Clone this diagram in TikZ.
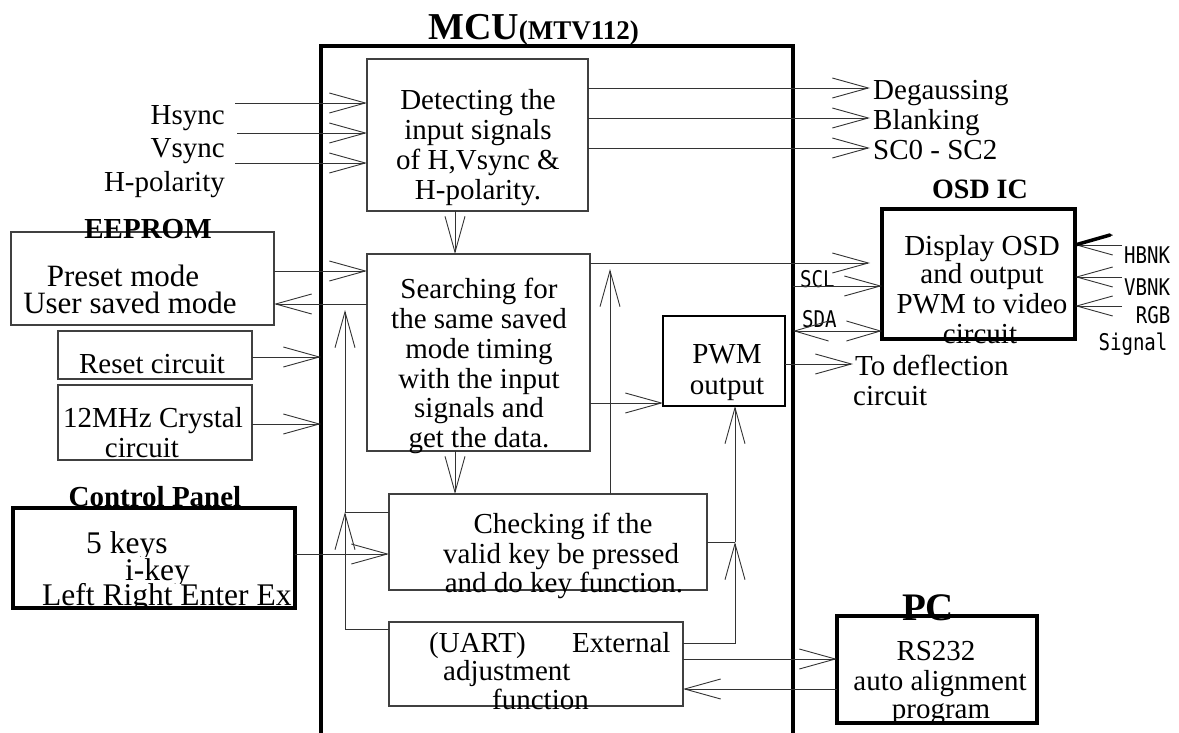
\documentclass[tikz,border=0pt]{standalone}
\usepackage{fontspec}
\usepackage{graphicx}
\setmainfont{Liberation Serif}
\newfontfamily\sigfont{DejaVu Sans Mono}
\usetikzlibrary{arrows.meta}

\newcommand\txt{\fontsize{29}{30}\selectfont}
\newcommand\sig[1]{\scalebox{0.83}[1]{\fontsize{23}{23}\selectfont\sigfont #1}}

\begin{document}
\begin{tikzpicture}[x=1pt,y=-1pt,
  wire/.style={line width=0.9pt, draw=black!80},
  arr/.style={wire, -{Straight Barb[length=36pt,width=20pt]}},
  darr/.style={wire, {Straight Barb[length=34pt,width=20pt]}-{Straight Barb[length=34pt,width=20pt]}},
  blk/.style={draw=black!75, line width=1.1pt, inner sep=0pt, outer sep=0pt, anchor=north west},
  heavy/.style={blk, draw=black, line width=4pt},
  lbl/.style={inner sep=0pt, font=\txt},
  keytxt/.style={inner sep=0pt, font=\fontsize{31.5}{31.5}\selectfont, anchor=base west},
  ttl/.style={inner sep=0pt, font=\fontsize{29}{29}\selectfont\bfseries},
  sg/.style={inner sep=0pt},
]
\useasboundingbox (0,0) rectangle (1179,733);

% ---------- blocks ----------
\node[heavy, line width=4.5pt, minimum width=472pt, minimum height=740pt] (mcu) at (321,46) {};
\node[blk, minimum width=221pt, minimum height=152pt] (det) at (367,59) {};
\node[blk, minimum width=223pt, minimum height=197pt] (srch) at (367,254) {};
\node[blk, minimum width=318pt, minimum height=96pt] (chk) at (389,494) {};
\node[blk, minimum width=294pt, minimum height=84pt] (uart) at (389,622) {};
\node[blk, draw=black, line width=2.5pt, minimum width=122pt, minimum height=90pt] (pwm) at (663,316) {};
\node[blk, minimum width=263pt, minimum height=93pt] (eep) at (11,232) {};
\node[blk, minimum width=194pt, minimum height=48pt] (rst) at (58,331) {};
\node[blk, minimum width=194pt, minimum height=75pt] (xtal) at (58,385) {};
\node[heavy, minimum width=282pt, minimum height=100pt] (cp) at (13,508) {};
\node[heavy, minimum width=193pt, minimum height=130pt] (osd) at (882,209) {};
\node[heavy, minimum width=200pt, minimum height=107pt] (pc) at (837,616) {};

% ---------- titles ----------
\node[inner sep=0pt, anchor=base west] (mcut) at (428,40)
  {{\fontsize{38}{38}\selectfont\bfseries MCU}{\fontsize{27}{27}\selectfont\bfseries(MTV112)}};
\node[ttl, anchor=base] (eept) at (148,239) {EEPROM};
\node[ttl, anchor=base] (cpt) at (155,506) {Control Panel};
\node[ttl, font=\fontsize{28}{28}\selectfont\bfseries, anchor=base] (osdt) at (980,199) {OSD IC};
\node[ttl, font=\fontsize{39}{39}\selectfont\bfseries, anchor=base] (pct) at (928,620) {PC};

% ---------- signal labels ----------
\node[lbl, anchor=base east] (hs) at (225,125) {Hsync};
\node[lbl, anchor=base east] (vs) at (225,158) {Vsync};
\node[lbl, anchor=base east] (hp) at (225,192) {H-polarity};
\node[lbl, anchor=base west] (deg) at (873,100) {Degaussing};
\node[lbl, anchor=base west] (blank) at (873,130) {Blanking};
\node[lbl, anchor=base west] (sc) at (873,160) {SC0 - SC2};
\node[lbl, anchor=base west] (defl1) at (855,375) {To deflection};
\node[lbl, anchor=base west] (defl2) at (853,405) {circuit};

% ---------- block texts ----------
\node[lbl, anchor=base] (d1) at (478,110) {Detecting the};
\node[lbl, anchor=base] (d2) at (478,140) {input signals};
\node[lbl, anchor=base] (d3) at (478,170) {of H,Vsync \&};
\node[lbl, anchor=base] (d4) at (478,200) {H-polarity.};

\node[lbl, anchor=base] (s1) at (479,298) {Searching for};
\node[lbl, anchor=base] (s2) at (479,328) {the same saved};
\node[lbl, anchor=base] (s3) at (479,358) {mode timing};
\node[lbl, anchor=base] (s4) at (479,388) {with the input};
\node[lbl, anchor=base] (s5) at (479,417) {signals and};
\node[lbl, anchor=base] (s6) at (479,447) {get the data.};

\node[lbl, anchor=base] (p1) at (727,363) {PWM};
\node[lbl, anchor=base] (p2) at (727,394) {output};

\node[lbl, anchor=base] (c1) at (563,533) {Checking if the};
\node[lbl, anchor=base] (c2) at (561,563) {valid key be pressed};
\node[lbl, anchor=base] (c3) at (564,592) {and do key function.};

\node[lbl, anchor=base west] (u1) at (429,652) {(UART)};
\node[lbl, anchor=base west] (u2) at (572,652) {External};
\node[lbl, anchor=base west] (u3) at (443,680) {adjustment};
\node[lbl, anchor=base west] (u4) at (492,709) {function};

\node[lbl, font=\fontsize{31}{31}\selectfont, anchor=base] (e1) at (123,286) {Preset mode};
\node[lbl, font=\fontsize{31}{31}\selectfont, anchor=base] (e2) at (130,313) {User saved mode};

\node[lbl, anchor=base] (r1) at (152,373) {Reset circuit};
\node[lbl, anchor=base] (x1) at (153,427) {12MHz Crystal};
\node[lbl, anchor=base] (x2) at (142,457) {circuit};

% key list, each line cut off by the one below and by the frame
\begin{scope}
  \clip (15,520) rectangle (292,556);
  \node[keytxt] (k1) at (86,553) {5 keys};
\end{scope}
\begin{scope}
  \clip (15,556) rectangle (292,583);
  \node[keytxt] (k2) at (125,580) {i-key};
\end{scope}
\begin{scope}
  \clip (15,583) rectangle (291,606);
  \node[keytxt] (k3) at (42,605) {Left Right Enter Exit};
\end{scope}

\node[lbl, anchor=base] (o1) at (982,255) {Display OSD};
\node[lbl, anchor=base] (o2) at (982,283) {and output};
\node[lbl, anchor=base] (o3) at (982,313) {PWM to video};
\node[lbl, anchor=base] (o4) at (980,343) {circuit};

\node[lbl, anchor=base] (pc1) at (936,660) {RS232};
\node[lbl, anchor=base] (pc2) at (940,690) {auto alignment};
\begin{scope}
  \clip (839,618) rectangle (1035,721);
  \node[lbl, anchor=base] (pc3) at (941,718) {program};
\end{scope}

\node[sg, anchor=base west] (scl) at (800,287) {\sig{SCL}};
\node[sg, anchor=base west] (sda) at (802,327) {\sig{SDA}};
\node[sg, anchor=base] (hbnk) at (1147,263) {\sig{HBNK}};
\node[sg, anchor=base] (vbnk) at (1147,295) {\sig{VBNK}};
\node[sg, anchor=base] (rgb) at (1153,323) {\sig{RGB}};
\node[sg, anchor=base] (sgl) at (1133,350) {\sig{Signal}};

% ---------- free ends and junctions ----------
\coordinate (hsIn) at (235,103);
\coordinate (vsIn) at (237,133);
\coordinate (hpIn) at (235,163);
\coordinate (degTip) at (870,88);
\coordinate (blankTip) at (870,118);
\coordinate (scTip) at (870,148);
\coordinate (sclTip) at (870,263);
\coordinate (deflTip) at (853,364);
\coordinate (hbIn) at (1122,245);
\coordinate (vbIn) at (1122,277);
\coordinate (rgbIn) at (1122,306);
\coordinate (jl) at (345,512);
\coordinate (jlTop) at (345,310);
\coordinate (jr) at (735,542);
\coordinate (feedTip) at (610,269);

% ---------- connectors ----------
\draw[arr] (hsIn) -- (det.west |- hsIn);
\draw[arr] (vsIn) -- (det.west |- vsIn);
\draw[arr] (hpIn) -- (det.west |- hpIn);

\draw[arr] (det.east |- degTip) -- (degTip);
\draw[arr] (det.east |- blankTip) -- (blankTip);
\draw[arr] (det.east |- scTip) -- (scTip);

\draw[arr] (det.south -| 455,0) -- (srch.north -| 455,0);
\draw[arr] (srch.south -| 455,0) -- (chk.north -| 455,0);

\draw[arr] (eep.east |- 0,271) -- (srch.west |- 0,271);
\draw[arr] (srch.west |- 0,304) -- (eep.east |- 0,304);

\draw[arr] (rst.east |- 0,357) -- (mcu.west |- 0,357);
\draw[arr] (xtal.east |- 0,424) -- (mcu.west |- 0,424);

\draw[arr] (cp.east |- 0,554) -- (chk.west |- 0,554);

\draw[arr] (srch.east |- 0,403) -- (pwm.west |- 0,403);
\draw[arr] (srch.east |- sclTip) -- (sclTip);
\draw[arr] (mcu.east |- 0,286) -- (osd.west |- 0,286);
\draw[darr] (mcu.east |- 0,331) -- (osd.west |- 0,331);
\draw[arr] (pwm.east |- deflTip) -- (deflTip);

\draw[arr] (hbIn) -- (osd.east |- hbIn);
\draw[line width=3.5pt, line cap=round] (osd.east |- hbIn) -- (1110,235);
\draw[arr] (vbIn) -- (osd.east |- vbIn);
\draw[arr] (rgbIn) -- (osd.east |- rgbIn);

% feedback paths inside the MCU
\draw[arr] (uart.west |- 0,629) -- (345,629) -- (jl);
\draw[arr] (jl) -- (jlTop);
\draw[wire] (chk.west |- jl) -- (jl);

\draw[arr] (chk.north -| feedTip) -- (feedTip);

\draw[arr] (uart.east |- 0,643) -- (735,643) -- (jr);
\draw[arr] (jr) -- (pwm.south -| jr);
\draw[wire] (chk.east |- jr) -- (jr);

\draw[arr] (uart.east |- 0,659) -- (pc.west |- 0,659);
\draw[arr] (pc.west |- 0,689) -- (uart.east |- 0,689);

\end{tikzpicture}
\end{document}
